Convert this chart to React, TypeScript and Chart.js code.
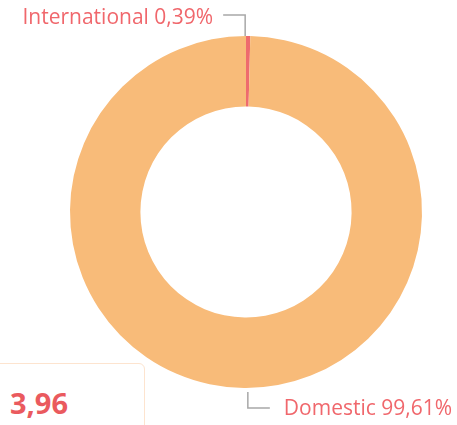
import React, { useEffect, useRef } from "react";
import { Chart, registerables } from "chart.js";

Chart.register(...registerables);

const categories = ["International", "Domestic"];
const shares = [0.39, 99.61];
const shareLabels = ["0,39%", "99,61%"];
const sliceColors = ["#ee6b6e", "#f8bb79"];
const kpiValue = "3,96";

const labelColor = "#f0676c";
const leaderColor = "#a8a8a8";
const fontFamily = "'Open Sans', 'Noto Sans', sans-serif";

const labelPlugin = {
  id: "leaderLabels",
  afterDatasetsDraw(chart: any) {
    const ctx = chart.ctx;
    const meta = chart.getDatasetMeta(0);
    ctx.save();
    ctx.font = `500 21px ${fontFamily}`;
    ctx.textBaseline = "alphabetic";
    meta.data.forEach((arc: any, i: number) => {
      const mid = (arc.startAngle + arc.endAngle) / 2;
      const px = arc.x + Math.cos(mid) * arc.outerRadius;
      const py = arc.y + Math.sin(mid) * arc.outerRadius;
      const text = `${categories[i]} ${shareLabels[i]}`;
      ctx.strokeStyle = leaderColor;
      ctx.lineWidth = 1.5;
      ctx.beginPath();
      if (py < arc.y) {
        const ly = py - 21;
        ctx.moveTo(px - 3, py);
        ctx.lineTo(px - 3, ly);
        ctx.lineTo(px - 25, ly);
        ctx.stroke();
        ctx.fillStyle = labelColor;
        ctx.textAlign = "right";
        ctx.fillText(text, px - 35, ly + 9);
      } else {
        const ly = py + 20;
        ctx.moveTo(px + 4, py + 4);
        ctx.lineTo(px + 4, ly);
        ctx.lineTo(px + 26, ly);
        ctx.stroke();
        ctx.fillStyle = labelColor;
        ctx.textAlign = "left";
        ctx.fillText(text, px + 40, ly + 7);
      }
    });
    ctx.restore();
  },
};

export default function App() {
  const ref = useRef<HTMLCanvasElement>(null);
  useEffect(() => {
    if (!ref.current) return;
    const chart = new Chart(ref.current, {
      type: "doughnut",
      data: {
        labels: categories,
        datasets: [
          {
            data: shares,
            backgroundColor: sliceColors,
            borderWidth: 0,
          },
        ],
      },
      options: {
        responsive: false,
        animation: false,
        cutout: "60%",
        layout: { padding: { left: 70, right: 35, top: 36, bottom: 37 } },
        plugins: {
          legend: { display: false },
          tooltip: { enabled: false },
        },
      },
      plugins: [labelPlugin],
    });
    return () => chart.destroy();
  }, []);

  return (
    <div
      style={{
        position: "fixed",
        left: 0,
        top: 0,
        width: 457,
        height: 425,
        background: "#fff",
        overflow: "hidden",
      }}
    >
      <div
        style={{
          position: "absolute",
          left: -10,
          top: 363,
          width: 155,
          height: 90,
          border: "1px solid #fde4cf",
          borderRadius: 6,
          boxSizing: "border-box",
        }}
      />
      <div
        style={{
          position: "absolute",
          left: 10,
          top: 383,
          fontFamily,
          fontWeight: 700,
          fontSize: 29,
          lineHeight: "40px",
          color: "#ea5a5e",
        }}
      >
        {kpiValue}
      </div>
      <canvas
        ref={ref}
        width={457}
        height={425}
        style={{ position: "absolute", left: 0, top: 0 }}
      />
    </div>
  );
}
